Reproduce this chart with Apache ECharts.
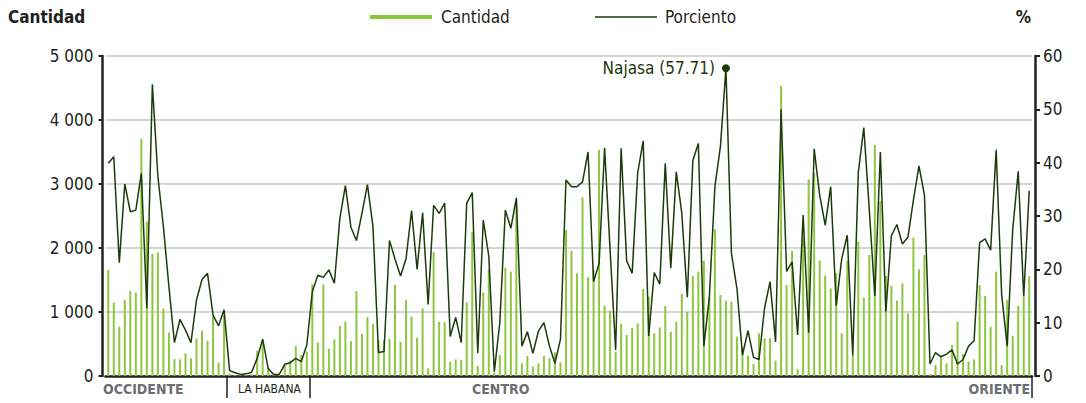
<!DOCTYPE html>
<html>
<head>
<meta charset="utf-8">
<script src="https://cdn.jsdelivr.net/npm/echarts@6/dist/echarts.min.js"></script>
<style>
  html, body { margin: 0; padding: 0; background: #fff; }
  #chart { width: 1086px; height: 403px; }
</style>
</head>
<body>
<div id="chart"></div>
<script>
// cantidad por municipio (168), de occidente a oriente
var cantidad = [
  1656, 1146, 771, 1187, 1328, 1302, 3708, 2411, 1906, 1932, 1052, 677, 266, 260, 354, 276, 589, 708, 552, 937, 208, 950,
  40, 20, 10, 15, 30, 396, 560, 120, 10, 15, 172, 240, 469, 328, 380,
  1432, 521, 1432, 427, 573, 781, 849, 547, 1328, 656, 917, 812, 562, 562, 578, 1422, 536, 1187, 927, 599, 1057, 120, 1937, 844, 844, 224,
  260, 250, 1151, 2255, 156, 1307, 1667, 52, 328, 1693, 1630, 2700, 198, 312, 146, 198, 312, 276, 370, 214,
  2281, 1958, 1604, 2791, 1542, 1656, 3531, 1094, 1021, 380, 818, 641, 755, 823, 1359, 1240, 667, 760, 1094, 693, 849,
  1281, 1005, 1562, 1630, 1802, 1240, 2291, 1266, 1177, 1161, 615, 458, 318, 187, 667, 589, 589, 240, 4531, 1422, 1953,
  104, 2151, 3073, 3167, 1802, 1568, 1370, 1604, 667, 1802, 328, 2099, 1224, 1891, 3609, 2734, 1562, 1411, 1177, 1448, 979,
  2161, 1667, 1891, 30, 172, 292, 198, 484, 849, 344, 224, 260, 1422, 1250, 771, 1630, 172, 1187, 630, 1094, 1240, 1562
];
var porciento = [
  39.9, 41.1, 21.25, 36, 30.8, 31.1, 38, 12.7, 54.7, 37.4, 28, 16.75, 6.25, 10.6, 8.6, 6.25, 14.25, 18.1, 19.25, 11.4, 9.4, 12.4,
  1.0, 0.6, 0.3, 0.4, 0.7, 3.3, 6.9, 1.4, 0.3, 0.3, 2.2, 2.5, 3.3, 2.7, 5.8,
  15.8, 18.9, 18.5, 19.9, 17.4, 29.6, 35.7, 27.9, 25.4, 30.5, 35.9, 28, 4.4, 4.6, 25.4, 21.9, 18.75, 22, 31, 20, 30.6, 13.4, 32, 30.5, 32.4, 7.4,
  11, 6.25, 32.4, 34.4, 4.25, 29.25, 22.5, 0.8, 10, 31.1, 27.7, 33.4, 5.6, 8.3, 4.25, 8.4, 10, 5.6, 2.4, 6.9,
  36.75, 35.5, 35.5, 36.4, 42, 17.7, 21.1, 42.8, 23.6, 4.9, 42.7, 21.6, 19.25, 38.1, 44.1, 7.5, 19.4, 17.2, 39.9, 20.2, 38.3,
  30.5, 14.75, 40.4, 43.6, 5.6, 14.9, 35.5, 43, 57.71, 23, 16.4, 3.9, 8.5, 3.5, 3.1, 12.7, 17.7, 6.4, 50, 19.6, 21.4,
  7.7, 30.2, 8.1, 42.6, 33.9, 28.3, 35.5, 13.2, 22, 26.4, 3.9, 38.1, 46.6, 31.1, 15, 42, 12.1, 26.3, 28.4, 24.75, 26,
  33, 39.4, 33.9, 2.25, 4.4, 3.6, 4.1, 4.9, 2.25, 3.1, 5.6, 6.6, 25, 25.7, 23.6, 42.4, 15.2, 5.6, 27.4, 38.4, 14.9, 34.75
];
var municipios = cantidad.map(function (v, i) { return 'M' + (i + 1); });
municipios[112] = 'Najasa';
var habanaInicio = 22, habanaFin = 37;   // La Habana: municipios 23..37
var ticksCantidad = [0, 1000, 2000, 3000, 4000, 5000];
var ticksPorciento = [0, 10, 20, 30, 40, 50, 60];

var font = "'Liberation Sans Narrow', 'DejaVu Sans Condensed', 'Roboto', sans-serif";
var verdeClaro = '#8dc63f';
var verdeOscuro = '#1c3a0c';

var chart = echarts.init(document.getElementById('chart'), null, { renderer: 'svg' });

var option = {
  animation: false,
  textStyle: { fontFamily: font },
  grid: { left: 105.5, right: 54, top: 56, bottom: 27, containLabel: false },
  xAxis: {
    type: 'category',
    data: municipios,
    boundaryGap: true,
    axisLine: { show: true, lineStyle: { color: '#231f20', width: 2.5 } },
    axisTick: {
      show: true,
      alignWithLabel: false,
      interval: function (idx) { return idx === habanaInicio || idx === habanaFin; },
      length: 22,
      lineStyle: { color: '#231f20', width: 1.5 }
    },
    axisLabel: { show: false }
  },
  yAxis: [
    {
      type: 'value',
      min: ticksCantidad[0],
      max: ticksCantidad[ticksCantidad.length - 1],
      interval: 1000,
      offset: 3,
      axisLine: { show: true, lineStyle: { color: '#231f20', width: 2.5 } },
      axisTick: { show: true, length: 4, lineStyle: { color: '#231f20', width: 2 } },
      axisLabel: {
        color: '#231f20', fontSize: 17, margin: 9, fontFamily: font,
        formatter: function (v) { return String(v).replace(/\B(?=(\d{3})+(?!\d))/g, ' '); }
      },
      splitLine: { show: true, lineStyle: { color: '#c8c8c8', width: 1.5 } }
    },
    {
      type: 'value',
      min: ticksPorciento[0],
      max: ticksPorciento[ticksPorciento.length - 1],
      interval: 10,
      offset: 3,
      position: 'right',
      axisLine: { show: true, lineStyle: { color: '#231f20', width: 2.5 } },
      axisTick: { show: true, length: 5, lineStyle: { color: '#231f20', width: 2 } },
      axisLabel: { color: '#231f20', fontSize: 17, margin: 8, fontFamily: font },
      splitLine: { show: false }
    }
  ],
  series: [
    {
      name: 'Cantidad',
      type: 'bar',
      yAxisIndex: 0,
      barWidth: 2,
      itemStyle: { color: verdeClaro },
      data: cantidad
    },
    {
      name: 'Porciento',
      type: 'line',
      yAxisIndex: 1,
      symbol: 'none',
      lineStyle: { color: verdeOscuro, width: 1.5 },
      z: 5,
      data: porciento,
      markPoint: {
        symbol: 'circle',
        symbolSize: 8,
        itemStyle: { color: verdeOscuro },
        label: {
          show: true, position: 'left', distance: 7,
          color: verdeOscuro, fontSize: 17, fontFamily: font,
          formatter: function (p) { return p.name + ' (' + p.value + ')'; }
        },
        data: [{ name: municipios[112], coord: [112, porciento[112]], value: porciento[112] }]
      }
    }
  ],
  graphic: [
    { type: 'text', left: 8, top: 8, style: { text: 'Cantidad', fontFamily: font, fontSize: 17, fontWeight: 'bold', fill: '#231f20' } },
    { type: 'text', right: 55, top: 8, style: { text: '%', fontFamily: font, fontSize: 17, fontWeight: 'bold', fill: '#231f20' } },
    { type: 'rect', shape: { x: 370, y: 15, width: 62, height: 4 }, style: { fill: verdeClaro } },
    { type: 'text', left: 441, top: 8, style: { text: 'Cantidad', fontFamily: font, fontSize: 17, fill: '#231f20' } },
    { type: 'line', shape: { x1: 595, y1: 17, x2: 657, y2: 17 }, style: { stroke: verdeOscuro, lineWidth: 1.5 } },
    { type: 'text', left: 665, top: 8, style: { text: 'Porciento', fontFamily: font, fontSize: 17, fill: '#231f20' } },
    { type: 'text', left: 103, top: 382, style: { text: 'OCCIDENTE', fontFamily: font, fontSize: 14, fontWeight: 'bold', fill: '#6d6e71' } },
    { type: 'text', left: 238, top: 383, style: { text: 'LA HABANA', fontFamily: font, fontSize: 12, fill: '#231f20' } },
    { type: 'text', left: 472, top: 382, style: { text: 'CENTRO', fontFamily: font, fontSize: 14, fontWeight: 'bold', fill: '#6d6e71' } },
    { type: 'text', right: 56, top: 382, style: { text: 'ORIENTE', fontFamily: font, fontSize: 14, fontWeight: 'bold', fill: '#6d6e71' } }
  ]
};

chart.setOption(option);
</script>
</body>
</html>
